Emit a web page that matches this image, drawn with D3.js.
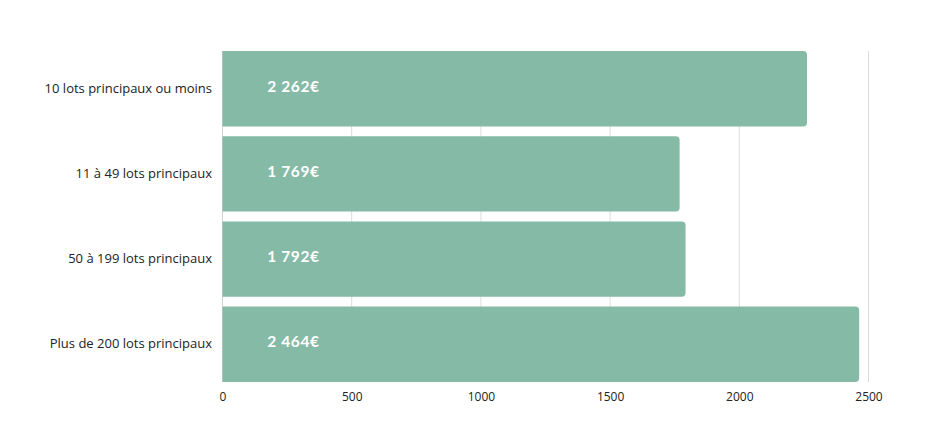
<!DOCTYPE html>
<html><head><meta charset="utf-8">
<script src="https://cdn.jsdelivr.net/npm/d3@7"></script>
<style>body{margin:0;background:#fff}svg{display:block}</style>
</head><body>
<script>
const categories = ["10 lots principaux ou moins","11 à 49 lots principaux","50 à 199 lots principaux","Plus de 200 lots principaux"];
const values = [2262,1769,1792,2464];
const valueLabels = ["2 262€","1 769€","1 792€","2 464€"];
const ticks = [0,500,1000,1500,2000,2500];

(function(){
const W=935,H=437;
const svg=d3.select("body").append("svg").attr("width",W).attr("height",H);
const x=d3.scaleLinear().domain([0,2500]).range([222.5,868.5]);
const y=d3.scaleBand().domain(categories).range([46.1,386.9]).paddingInner(0.115).paddingOuter(0.0575);
const plotTop=y(categories[0]), plotBot=y(categories[categories.length-1])+y.bandwidth();

// grid
svg.append("g").selectAll("line").data(ticks.slice(1)).join("line")
 .attr("x1",d=>x(d)).attr("x2",d=>x(d)).attr("y1",plotTop).attr("y2",plotBot)
 .attr("stroke","#dcdcdc").attr("stroke-width",1);
svg.append("line").attr("x1",x(0)).attr("x2",x(0)).attr("y1",plotTop).attr("y2",plotBot).attr("stroke","#d0d0d0");

// bars with rounded right corners
const r=4;
svg.append("g").selectAll("path").data(values).join("path")
 .attr("fill","#85baa7")
 .attr("d",(d,i)=>{
   const x0=x(0),x1=x(d),y0=y(categories[i]),y1=y0+y.bandwidth();
   const p=d3.path();
   p.moveTo(x0,y0);p.lineTo(x1-r,y0);p.arcTo(x1,y0,x1,y0+r,r);
   p.lineTo(x1,y1-r);p.arcTo(x1,y1,x1-r,y1,r);p.lineTo(x0,y1);p.closePath();
   return p.toString();
 });

// value labels
svg.append("g").selectAll("text").data(valueLabels).join("text")
 .attr("x",x(0)+71).attr("y",(d,i)=>y(categories[i])+y.bandwidth()/2-3)
 .attr("text-anchor","middle").attr("dominant-baseline","central")
 .attr("fill","#fff").attr("font-family","Lato, 'Open Sans', sans-serif").attr("font-weight","bold").attr("font-size","15.5px")
 .attr("letter-spacing","0.6px")
 .text(d=>d);

// category labels
svg.append("g").selectAll("text").data(categories).join("text")
 .attr("x",212).attr("y",d=>y(d)+y.bandwidth()/2-1)
 .attr("text-anchor","end").attr("dominant-baseline","central")
 .attr("fill","#222").attr("font-family","'Open Sans', sans-serif").attr("font-size","13px")
 .text(d=>d);

// x axis labels
const ax=svg.append("g").attr("transform",`translate(0,${plotBot+4})`)
 .call(d3.axisBottom(x).tickValues(ticks).tickSize(0).tickPadding(6).tickFormat(d3.format("d")));
ax.select(".domain").remove();
ax.selectAll("text").attr("fill","#222").attr("font-family","'Open Sans', sans-serif").attr("font-size","12px");
})();
</script>
</body></html>
